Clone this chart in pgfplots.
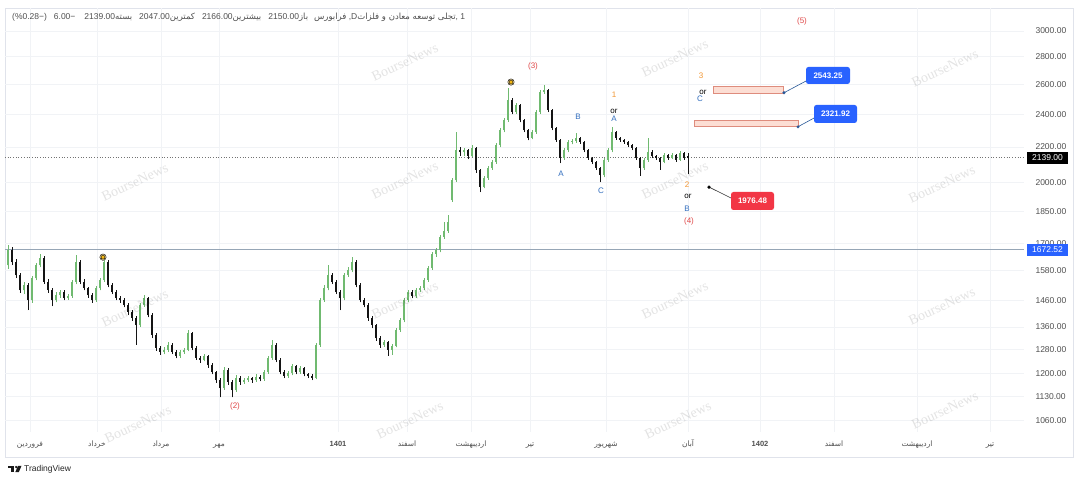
\documentclass[border=0pt]{standalone}
\usepackage{fontspec}
\setmainfont{Liberation Sans}
\newfontfamily\arabicfont[Script=Arabic]{DejaVu Sans}
\newfontfamily\wmfont{Liberation Serif}
\usepackage{pgfplots}
\pgfplotsset{compat=1.18}
\usepackage{pgfplotstable}
\TeXXeTstate=1
\newcommand\fa[1]{{\arabicfont\beginR #1\endR}}
\definecolor{upc}{RGB}{112,186,112}
\definecolor{dnc}{RGB}{20,20,20}
\definecolor{tvblue}{RGB}{41,98,255}
\definecolor{tvred}{RGB}{242,54,69}
\definecolor{wred}{RGB}{224,72,72}
\definecolor{wblue}{RGB}{50,110,190}
\definecolor{worange}{RGB}{242,150,50}
\definecolor{gridc}{RGB}{241,243,246}
\definecolor{lblc}{RGB}{80,80,80}
\definecolor{zonef}{RGB}{252,222,212}
\definecolor{zoned}{RGB}{222,140,125}
\definecolor{hlc}{RGB}{150,166,182}
\definecolor{framec}{RGB}{224,227,235}
\definecolor{dotc}{RGB}{245,185,20}

% daily candles: x, open, high, low, close (price axis is logarithmic: plotted as ln(price))
\pgfplotstableread{
xx op hi lo cl
8 1605 1695 1590 1670
12 1670 1685 1605 1617
16 1617 1630 1550 1562
20 1562 1570 1490 1501
24 1501 1535 1485 1521
28 1521 1530 1423 1461
32 1461 1560 1450 1550
36 1550 1615 1540 1605
40 1605 1652 1595 1635
44 1635 1645 1525 1534
48 1534 1545 1490 1501
52 1501 1510 1438 1461
56 1461 1492 1452 1481
60 1481 1502 1470 1493
64 1493 1500 1460 1469
68 1469 1485 1462 1477
72 1477 1542 1470 1534
76 1534 1648 1525 1617
80 1617 1625 1525 1534
84 1534 1545 1500 1509
88 1509 1515 1470 1481
92 1481 1490 1450 1461
96 1461 1518 1455 1509
100 1509 1552 1500 1542
104 1542 1639 1535 1617
108 1617 1625 1512 1521
112 1521 1528 1485 1493
116 1493 1500 1460 1469
120 1469 1478 1450 1461
124 1461 1468 1433 1442
128 1442 1450 1405 1415
132 1415 1422 1383 1393
136 1393 1400 1296 1367
140 1367 1450 1360 1442
144 1442 1480 1435 1469
148 1469 1475 1395 1404
152 1404 1410 1320 1331
156 1331 1338 1276 1286
160 1286 1292 1262 1272
164 1272 1288 1265 1279
168 1279 1305 1272 1296
172 1296 1302 1265 1272
176 1272 1278 1250 1259
180 1259 1280 1252 1272
184 1272 1286 1266 1279
188 1279 1349 1275 1338
192 1338 1342 1278 1286
196 1286 1292 1245 1252
200 1252 1258 1236 1245
204 1245 1266 1240 1259
208 1259 1263 1220 1228
212 1228 1234 1198 1205
216 1205 1210 1172 1180
220 1180 1185 1127 1155
224 1155 1222 1150 1212
228 1212 1218 1165 1174
232 1174 1180 1127 1149
236 1149 1195 1143 1186
240 1186 1192 1166 1174
244 1174 1188 1168 1180
248 1180 1193 1175 1186
252 1186 1190 1172 1180
256 1180 1198 1174 1190
260 1190 1196 1176 1183
264 1183 1212 1178 1205
268 1205 1260 1200 1252
272 1252 1315 1245 1296
276 1296 1302 1238 1245
280 1245 1250 1198 1205
284 1205 1211 1186 1193
288 1193 1209 1188 1202
292 1202 1233 1196 1225
296 1225 1230 1198 1205
300 1205 1225 1200 1218
304 1218 1222 1192 1199
308 1199 1204 1186 1193
312 1193 1198 1180 1186
316 1186 1302 1183 1296
320 1296 1470 1290 1461
324 1461 1520 1455 1509
328 1509 1605 1500 1562
332 1562 1570 1525 1534
336 1534 1540 1485 1493
340 1493 1500 1423 1469
344 1469 1572 1460 1562
348 1562 1595 1555 1583
352 1583 1639 1575 1617
356 1617 1625 1512 1521
360 1521 1528 1452 1461
364 1461 1468 1433 1442
368 1442 1448 1383 1393
372 1393 1400 1355 1367
376 1367 1372 1310 1320
380 1320 1326 1286 1296
384 1296 1315 1290 1306
388 1306 1310 1259 1279
392 1279 1300 1262 1293
396 1293 1356 1288 1349
400 1349 1392 1342 1385
404 1385 1470 1378 1461
408 1461 1502 1452 1493
412 1493 1500 1468 1477
416 1477 1510 1470 1501
420 1501 1518 1492 1509
424 1509 1552 1502 1542
428 1542 1602 1535 1592
432 1592 1662 1585 1652
436 1652 1680 1640 1670
440 1670 1740 1660 1730
444 1730 1800 1722 1757
448 1757 1834 1750 1800
452 1909 2025 1900 2014
456 2014 2290 2005 2182
460 2182 2200 2150 2170
464 2170 2195 2145 2182
468 2182 2190 2130 2147
472 2147 2210 2140 2194
476 2194 2200 2055 2069
480 2069 2075 1951 1977
484 1977 2036 1970 2025
488 2025 2090 2015 2080
492 2080 2125 2070 2114
496 2114 2222 2105 2212
500 2212 2314 2200 2302
504 2302 2378 2290 2365
508 2365 2576 2355 2494
512 2494 2505 2400 2416
516 2416 2475 2405 2461
520 2461 2470 2350 2365
524 2365 2372 2290 2302
528 2302 2310 2240 2254
532 2254 2300 2245 2290
536 2290 2428 2280 2416
540 2416 2562 2405 2549
544 2549 2597 2535 2562
548 2562 2570 2415 2429
552 2429 2436 2302 2314
556 2314 2322 2230 2242
560 2242 2250 2108 2136
564 2136 2194 2125 2182
568 2182 2240 2170 2230
572 2230 2245 2215 2236
576 2236 2284 2225 2254
580 2254 2262 2218 2230
584 2230 2236 2170 2182
588 2182 2190 2125 2136
592 2136 2142 2102 2114
596 2114 2120 2069 2080
600 2080 2088 2003 2041
604 2041 2136 2030 2125
608 2125 2194 2115 2182
612 2182 2320 2170 2290
616 2290 2298 2242 2254
620 2254 2262 2230 2242
624 2242 2250 2218 2230
628 2230 2236 2200 2212
632 2212 2220 2182 2194
636 2194 2200 2125 2136
640 2136 2142 2036 2080
644 2080 2136 2069 2125
648 2125 2254 2114 2170
652 2170 2180 2136 2147
656 2147 2155 2125 2136
660 2136 2142 2069 2114
664 2114 2165 2108 2153
668 2153 2160 2125 2136
672 2136 2165 2130 2153
676 2153 2160 2114 2125
680 2125 2176 2120 2165
684 2165 2172 2125 2136
688 2150 2166 2047 2139
}\candles

\begin{document}
\begin{tikzpicture}[x=1pt,y=1pt]
\useasboundingbox (0,0) rectangle (1080,482);
\fill[white] (0,0) rectangle (1080,482);
\draw[framec, line width=0.8pt] (5,25) rectangle (1073,474);

\begin{axis}[
  at={(5pt,50pt)}, anchor=south west, scale only axis,
  width=1019pt, height=424pt,
  xmin=5, xmax=1024, ymin=6.93440, ymax=8.06778,
  clip=false,
  axis line style={draw=none},
  major tick length=0pt, yminorticks=false, xminorticks=false,
  ymajorgrids, xmajorgrids,
  grid style={gridc, line width=0.7pt},
  % tick positions = ln(1060), ln(1130), ..., ln(3000)
  ytick={6.966024,7.029973,7.090077,7.154615,7.215240,7.286192,7.365180,7.438384,7.522941,7.600902,7.696213,7.783224,7.863267,7.937375,8.006368},
  yticklabels={1060.00,1130.00,1200.00,1280.00,1360.00,1460.00,1580.00,1700.00,1850.00,2000.00,2200.00,2400.00,2600.00,2800.00,3000.00},
  yticklabel pos=right,
  yticklabel style={font=\fontsize{8.5}{10}\selectfont, text=lblc, anchor=west, xshift=8pt},
  xtick={30,97,161,219,338,407,471,530,606,688,760,834,917,990},
  xticklabels={\fa{فروردین},\fa{خرداد},\fa{مرداد},\fa{مهر},\textbf{1401},\fa{اسفند},\fa{اردیبهشت},\fa{تیر},\fa{شهریور},\fa{آبان},\textbf{1402},\fa{اسفند},\fa{اردیبهشت},\fa{تیر}},
  xticklabel style={font=\fontsize{7.5}{9}\selectfont, text=lblc, anchor=base, yshift=-15pt},
]
% reference lines
\addplot[hlc, line width=0.9pt, forget plot] table[row sep=\\, y expr=ln(\thisrow{p})] {x p\\ 5 1672.52\\ 1024 1672.52\\};
\addplot[black!55, dotted, line width=0.7pt, forget plot] table[row sep=\\, y expr=ln(\thisrow{p})] {x p\\ 5 2139\\ 1024 2139\\};

% wicks
\addplot[only marks, mark=none, mark size=0pt, forget plot,
  restrict expr to domain={\thisrow{cl}-\thisrow{op}}{0:100000},
  error bars/.cd, y dir=plus, y explicit, error mark=none,
  error bar style={line width=0.7pt, draw=upc}]
  table[x=xx, y expr=ln(\thisrow{lo}), y error plus expr=ln(\thisrow{hi})-ln(\thisrow{lo})] {\candles};
\addplot[only marks, mark=none, mark size=0pt, forget plot,
  restrict expr to domain={\thisrow{cl}-\thisrow{op}}{-100000:-0.001},
  error bars/.cd, y dir=plus, y explicit, error mark=none,
  error bar style={line width=0.7pt, draw=dnc}]
  table[x=xx, y expr=ln(\thisrow{lo}), y error plus expr=ln(\thisrow{hi})-ln(\thisrow{lo})] {\candles};
% bodies
\addplot[only marks, mark=none, mark size=0pt, forget plot,
  restrict expr to domain={\thisrow{cl}-\thisrow{op}}{0:100000},
  error bars/.cd, y dir=plus, y explicit, error mark=none,
  error bar style={line width=2.8pt, draw=upc}]
  table[x=xx, y expr=ln(\thisrow{op}), y error plus expr=ln(\thisrow{cl})-ln(\thisrow{op})] {\candles};
\addplot[only marks, mark=none, mark size=0pt, forget plot,
  restrict expr to domain={\thisrow{cl}-\thisrow{op}}{-100000:-0.001},
  error bars/.cd, y dir=plus, y explicit, error mark=none,
  error bar style={line width=2.8pt, draw=dnc}]
  table[x=xx, y expr=ln(\thisrow{cl}), y error plus expr=ln(\thisrow{op})-ln(\thisrow{cl})] {\candles};

% orange dots
\addplot[only marks, mark=*, mark size=3.2pt, draw=none, fill=dotc!35, forget plot] table[row sep=\\, y expr=ln(\thisrow{p})] {x p\\ 511 2617\\ 103 1639\\};
\addplot[only marks, mark=*, mark size=2pt, draw=none, fill=dotc, forget plot] table[row sep=\\, y expr=ln(\thisrow{p})] {x p\\ 511 2617\\ 103 1639\\};

% target zones (y in ln(price))
\filldraw[fill=zonef, draw=zoned, line width=0.6pt] (axis cs:713,7.8406) rectangle (axis cs:783,7.8593);
\filldraw[fill=zonef, draw=zoned, line width=0.6pt] (axis cs:694,7.7504) rectangle (axis cs:798,7.7685);
\draw[wblue!80!black, line width=0.6pt] (axis cs:784,7.8413) -- (axis cs:808,7.8754);
\draw[wblue!80!black, line width=0.6pt] (axis cs:798,7.7504) -- (axis cs:816,7.7765);
\draw[black!80, line width=0.6pt] (axis cs:709,7.5891) -- (axis cs:733,7.5573);
\addplot[only marks, mark=*, mark size=1.3pt, wblue!80!black, forget plot] table[row sep=\\, y expr=ln(\thisrow{p})] {x p\\ 784 2543.25\\ 798 2321.92\\};
\addplot[only marks, mark=*, mark size=1.4pt, black, forget plot] table[row sep=\\, y expr=ln(\thisrow{p})] {x p\\ 709 1976.48\\};
\node[fill=tvblue, text=white, rounded corners=2.5pt, minimum width=44pt, minimum height=17pt, inner sep=0pt, font=\bfseries\fontsize{8}{9}\selectfont] at (axis cs:828,7.8874) {2543.25};
\node[fill=tvblue, text=white, rounded corners=2.5pt, minimum width=43pt, minimum height=18pt, inner sep=0pt, font=\bfseries\fontsize{8}{9}\selectfont] at (axis cs:835.5,7.7845) {2321.92};
\node[fill=tvred, text=white, rounded corners=2.5pt, minimum width=43pt, minimum height=18pt, inner sep=0pt, font=\bfseries\fontsize{8}{9}\selectfont] at (axis cs:752.5,7.5519) {1976.48};

% wave labels
\begin{scope}[every node/.style={font=\fontsize{8}{9}\selectfont, inner sep=0pt}]
\node[text=wred] at (axis cs:802,8.0331) {(5)};
\node[text=wred] at (axis cs:533,7.9128) {(3)};
\node[text=wred] at (axis cs:235,7.0040) {(2)};
\node[text=wred] at (axis cs:689,7.4985) {(4)};
\node[text=worange] at (axis cs:614,7.8353) {1};
\node[text=black] at (axis cs:614,7.7925) {or};
\node[text=wblue] at (axis cs:614,7.7711) {A};
\node[text=worange] at (axis cs:701,7.8861) {3};
\node[text=black] at (axis cs:703,7.8433) {or};
\node[text=wblue] at (axis cs:700,7.8246) {C};
\node[text=worange] at (axis cs:687,7.5947) {2};
\node[text=black] at (axis cs:688,7.5653) {or};
\node[text=wblue] at (axis cs:687,7.5306) {B};
\node[text=wblue] at (axis cs:578,7.7765) {B};
\node[text=wblue] at (axis cs:561,7.6241) {A};
\node[text=wblue] at (axis cs:601,7.5787) {C};
\end{scope}

% price scale labels
\node[fill=black, text=white, minimum width=41pt, minimum height=12pt, inner sep=0pt, font=\fontsize{8.5}{10}\selectfont] at (axis cs:1047.5,7.668095) {2139.00};
\node[fill=tvblue, text=white, minimum width=41pt, minimum height=12pt, inner sep=0pt, font=\fontsize{8.5}{10}\selectfont] at (axis cs:1047.5,7.422087) {1672.52};
\end{axis}

% header
\node[anchor=west, inner sep=0pt, text=lblc, font=\fontsize{8.5}{10}\selectfont] at (12,465) {(\%0.28−)\hspace{7pt}6.00−\hspace{9pt}2139.00\fa{بسته}\hspace{7pt}2047.00\fa{کمترین}\hspace{7pt}2166.00\fa{بیشترین}\hspace{7pt}2150.00\fa{باز}\hspace{6pt}\fa{فرابورس} ,D\fa{تجلی توسعه معادن و فلزات}, 1};

% TradingView logo
\fill[black!90] (8,13.5) rectangle (14,16.2);
\fill[black!90] (11.3,9.8) rectangle (14,16.2);
\fill[black!90] (16.2,14.9) circle (1.3);
\fill[black!90] (18,16.2) -- (21.5,16.2) -- (18.8,9.8) -- (15.3,9.8) -- cycle;
\node[anchor=west, inner sep=0pt, font=\fontsize{8.5}{10}\selectfont, text=black!85] at (24,13) {TradingView};

% watermarks
\begin{scope}[every node/.style={rotate=25, text=black, text opacity=0.11, font=\wmfont\fontsize{14}{14}\selectfont}]
\foreach \px/\py in {405/62,675/58,945/68,135/182,405/180,675/180,942/184,135/308,405/300,675/300,942/306,138/424,410/420,678/420,945/410} {
  \node at (\px,482-\py) {BourseNews};
}
\end{scope}
\end{tikzpicture}
\end{document}
